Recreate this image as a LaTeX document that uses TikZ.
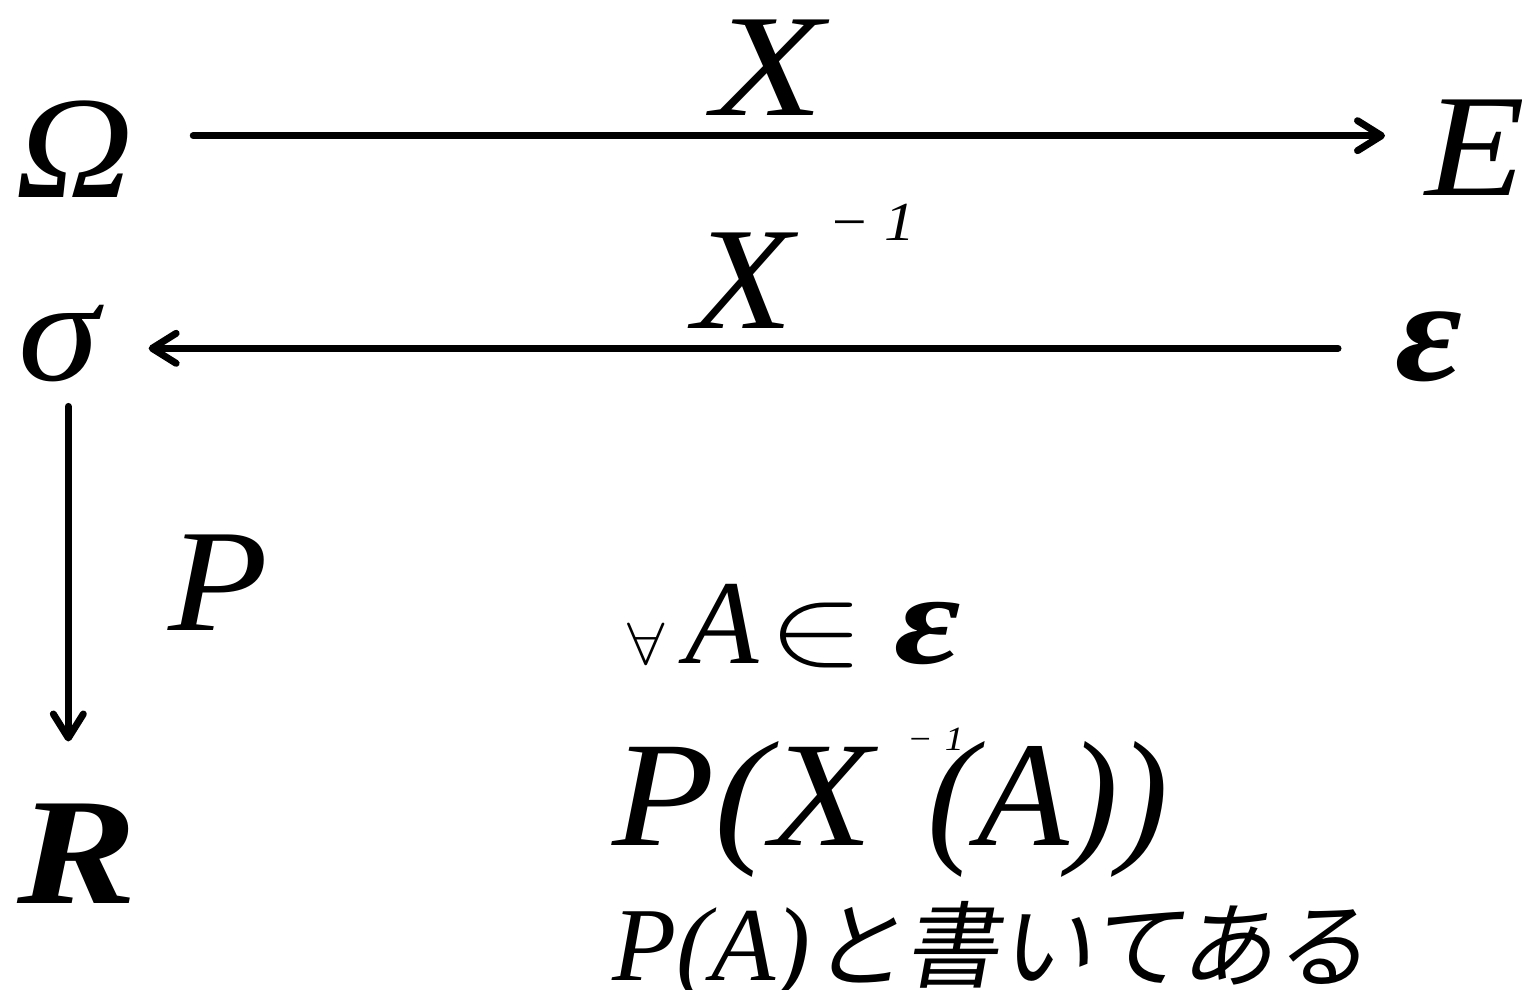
\documentclass[tikz,border=0pt]{standalone}
\usepackage{fontspec}
\usepackage{graphicx}
\setmainfont{Liberation Serif}
\newfontfamily\wide[FakeStretch=1.12]{Liberation Serif}
\newfontfamily\wider[FakeStretch=1.25]{Liberation Serif}
\newfontfamily\rfont[FakeStretch=1.18]{Liberation Serif}
\newfontfamily\cjkfont[FakeSlant=0.18]{Noto Sans CJK JP}
\usetikzlibrary{arrows.meta}
\tikzset{
  lbl/.style={inner sep=0pt, outer sep=0pt, font=\fontsize{146}{146}\wide\itshape},
  mid/.style={inner sep=0pt, outer sep=0pt, font=\fontsize{120}{120}\selectfont\itshape},
  big/.style={inner sep=0pt, outer sep=0pt, font=\fontsize{150}{150}\selectfont\itshape},
  sml/.style={inner sep=0pt, outer sep=0pt, font=\fontsize{105}{105}\selectfont\itshape},
  arr/.style={line width=7pt, line cap=round, -{Straight Barb[length=24pt,width=30pt,line width=7pt,round]}}
}
\begin{document}
\begin{tikzpicture}[x=1pt,y=-1pt]
\useasboundingbox (0,0) rectangle (1522,989);
\node[lbl, anchor=base west] (Om) at (15,197) {Ω};
\node[lbl, anchor=base west] (E) at (1425,195) {E};
\node[lbl, anchor=base, font=\fontsize{146}{146}\wider\itshape] (X) at (768,115) {X};
\node[lbl, anchor=base west] (sig) at (18,380) {σ};
\node[lbl, anchor=base west, font=\fontsize{146}{146}\wide\bfseries\itshape] (eps) at (1395,380) {ε};
\node[lbl, anchor=base west] (Xinv) at (693,328) {X\hspace{36pt}\raisebox{88pt}{\fontsize{55}{55}\wide −\hspace{14pt}1}};
\node[lbl, anchor=base west] (P) at (168,630) {P};
\node[lbl, anchor=base west, font=\fontsize{152}{152}\rfont\bfseries\itshape] (R) at (17,903) {R};
\node[mid, anchor=base west] (forall) at (627,663) {\raisebox{-1pt}{\scalebox{2.7}[2.4]{$\forall$}}\hspace{21pt}A\hspace{10pt}\scalebox{5.8}[4.5]{$\in$}\hspace{30pt}{\fontsize{130}{130}\wider\bfseries ε}};
\node[big, anchor=base west] (PX) at (612,845) {{\fontsize{150}{150}\wide P(X}\hspace{34pt}\rlap{\raisebox{95pt}{\fontsize{34}{34}\wide −\hspace{12pt}1}}\hspace{20pt}(A))};
\node[sml, anchor=base west] (PA) at (612,980) {P(A)\hspace{0pt}{\cjkfont\fontsize{94}{94}\selectfont と書いてある}};
\draw[arr, shorten <=60pt, shorten >=40pt] ([yshift=13pt]Om.east) -- ([yshift=13pt]Om.east -| E.west);
\draw[arr, shorten <=57pt, shorten >=50pt] ([yshift=-2pt]eps.west) -- ([yshift=-2pt]eps.west -| sig.east);
\draw[arr, shorten <=25pt, shorten >=62pt] ([xshift=10pt]sig.south) -- ([xshift=10pt]sig.south |- R.north);
\end{tikzpicture}
\end{document}
